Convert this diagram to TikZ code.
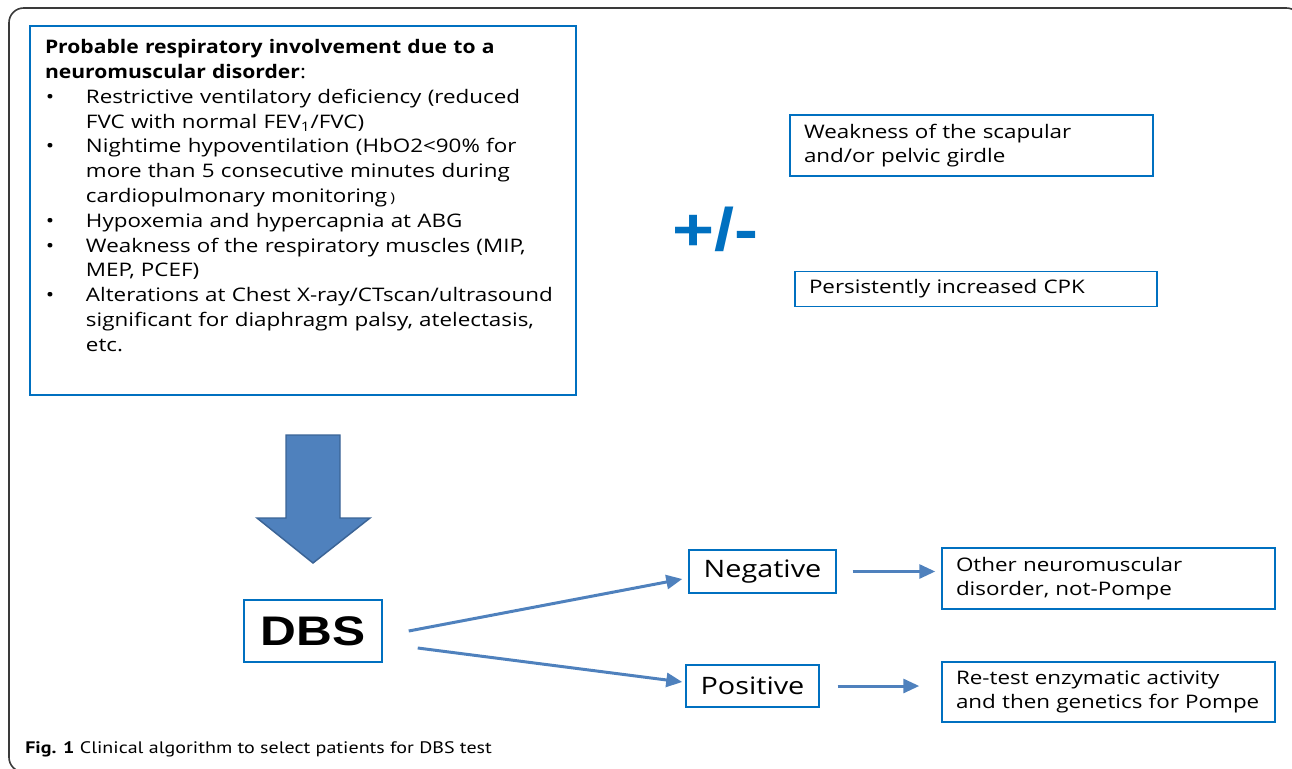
\documentclass[tikz,border=0pt]{standalone}
\usepackage{fontspec}
\setmainfont{Open Sans}[FakeStretch=1.2, BoldFeatures={FakeStretch=1.13}]
\newfontfamily\arialfont{Liberation Sans}[FakeStretch=1.2]
\newfontfamily\capfont{PT Sans}[FakeStretch=1.2]
\usetikzlibrary{arrows.meta,positioning,calc}

\definecolor{boxblue}{HTML}{0070C0}
\definecolor{linkblue}{HTML}{4F81BD}
\definecolor{linkdark}{HTML}{3B6496}
\definecolor{framegray}{HTML}{3A3A3A}

\newdimen\pxu \pxu=0.75pt
\newcommand{\firstline}[1]{\par\noindent\makebox[41\pxu][l]{\hspace{1\pxu}\textbullet}#1}
\newcommand{\nextline}[1]{\par\noindent\hspace*{41\pxu}#1}

\begin{document}
\begin{tikzpicture}[
  x=0.75pt, y=-0.75pt,
  bigbox/.style={rectangle, draw=boxblue, line width=2.2pt, inner xsep=15\pxu,
                 text width=516\pxu, minimum width=546\pxu, minimum height=369\pxu,
                 font=\fontsize{14}{18.6}\selectfont},
  infobox/.style={rectangle, draw=boxblue, line width=1.1pt, inner xsep=14\pxu,
                  align=left, font=\fontsize{14}{18}\selectfont},
  resbox/.style={rectangle, draw=boxblue, line width=1.1pt, inner sep=0pt,
                 font=\fontsize{18}{22}\selectfont},
  conn/.style={-{Triangle[length=12pt, width=10.5pt]}, line width=2.25pt, draw=linkblue},
  bigarr/.style={fill=linkblue, draw=linkdark, line width=1.1pt, line join=miter}
]
\useasboundingbox (0,0) rectangle (1292,768);
\clip (0,0) rectangle (1292,768);
\draw[framegray, line width=1.2pt, rounded corners=11pt] (9,8) rectangle (1301,772);

\node[bigbox] (Resp) at (303,210.5) {%
  \noindent\textbf{Probable respiratory involvement due to a}\par
  \noindent\textbf{neuromuscular disorder}:
  \firstline{Restrictive ventilatory deficiency (reduced}
  \nextline{FVC with normal FEV\textsubscript{1}/FVC)}
  \firstline{Nightime hypoventilation (HbO2<90\% for}
  \nextline{more than 5 consecutive minutes during}
  \nextline{cardiopulmonary monitoring\,{\fontsize{10}{12}\selectfont)}}
  \firstline{Hypoxemia and hypercapnia at ABG}
  \firstline{Weakness of the respiratory muscles (MIP,}
  \nextline{MEP, PCEF)}
  \firstline{Alterations at Chest X-ray/CTscan/ultrasound}
  \nextline{significant for diaphragm palsy, atelectasis,}
  \nextline{etc.\rule[-30\pxu]{0pt}{30\pxu}}};

\node[infobox, text width=335\pxu, minimum height=61\pxu] (Scap) at (971.5,145.5)
  {Weakness of the scapular\\and/or pelvic girdle};
\node[infobox, text width=334\pxu, minimum height=35\pxu] (CPK) at (976,289)
  {Persistently increased CPK};
\node[anchor=base west, inner sep=0pt, text=boxblue,
      font=\arialfont\bfseries\fontsize{45}{45}\selectfont] (PM) at (672,250) {+/-};

\draw[bigarr] (286,435) -- (340,435) -- (340,518) -- (370,518) -- (313,563)
  -- (257,518) -- (286,518) -- cycle;

\node[resbox, minimum width=138\pxu, minimum height=62\pxu,
      font=\arialfont\bfseries\fontsize{31}{31}\selectfont] (DBS) at (313,631) {DBS};
\node[resbox, minimum width=147\pxu, minimum height=43\pxu] (Neg) at (762.5,571.5) {Negative};
\node[resbox, minimum width=133\pxu, minimum height=42\pxu] (Pos) at (752.5,686) {Positive};
\node[infobox, text width=305\pxu, minimum height=61\pxu] (Other) at (1108.5,578.5)
  {Other neuromuscular\\disorder, not-Pompe};
\node[infobox, text width=305\pxu, minimum height=60\pxu] (Retest) at (1108.5,692)
  {Re-test enzymatic activity\\and then genetics for Pompe};

\draw[conn] ($(DBS.east)+(26,0)$) -- ($(Neg.west)+(-6,7.5)$);
\draw[conn] ($(DBS.east)+(35,17)$) -- ($(Pos.west)+(-3,-4)$);
\draw[conn, shorten <=12pt, shorten >=4.5pt] (Neg.east) -- (Neg.east -| Other.west);
\draw[conn, shorten <=13.5pt, shorten >=16.5pt] (Pos.east) -- (Pos.east -| Retest.west);

\node[anchor=base west, inner sep=0pt, font=\capfont\fontsize{12.5}{15}\selectfont] (Cap)
  at (25,753) {\textbf{Fig. 1} Clinical algorithm to select patients for DBS test};
\end{tikzpicture}
\end{document}
